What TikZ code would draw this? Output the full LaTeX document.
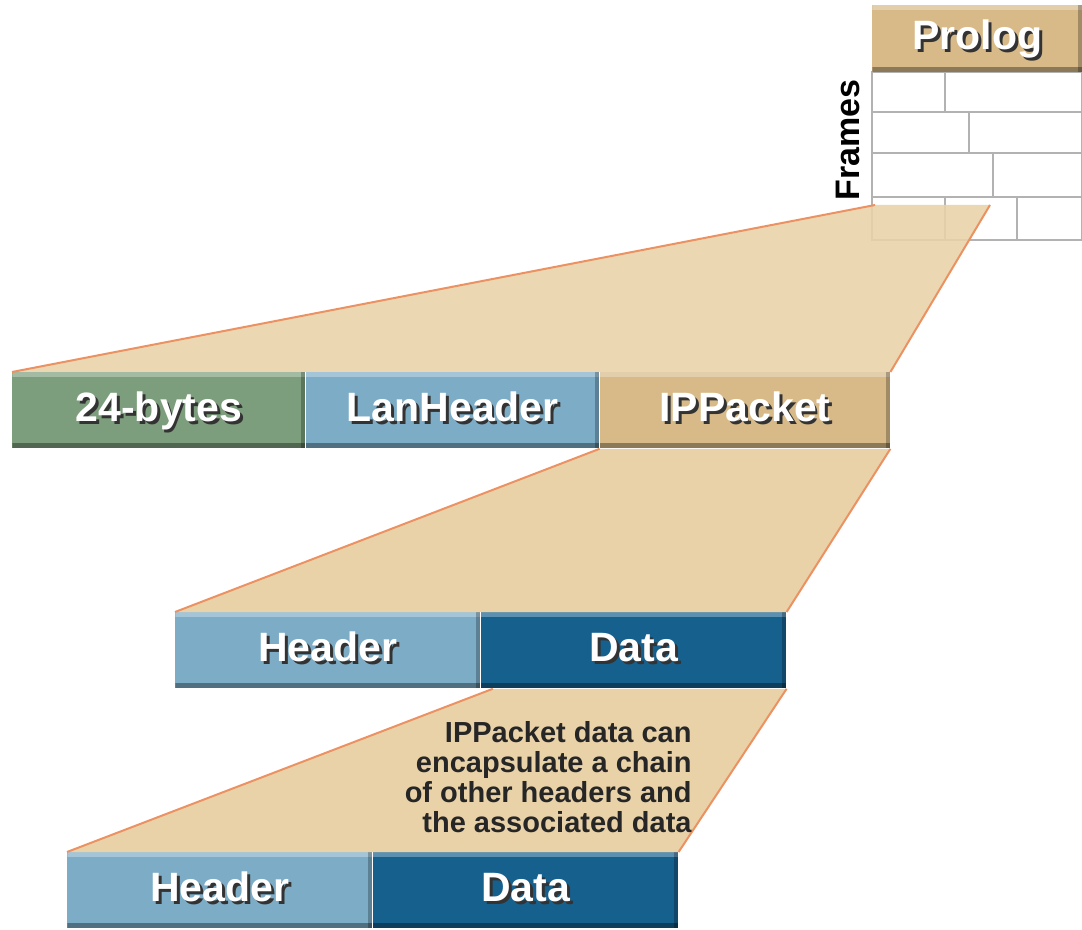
\documentclass[tikz,border=0pt]{standalone}
\usepackage{fontspec}
\setmainfont{Liberation Sans}
\usetikzlibrary{positioning}
\definecolor{segGreen}{RGB}{124,158,124}
\definecolor{segLight}{RGB}{124,172,198}
\definecolor{segDark}{RGB}{22,96,142}
\definecolor{segTan}{RGB}{216,186,136}
\definecolor{trapTan}{RGB}{233,210,168}
\definecolor{edgeOrange}{RGB}{236,146,98}
\newcommand{\raisedtext}[1]{\makebox[0pt][l]{\kern1.4pt\raisebox{-1.4pt}{\color{black!80}#1}}#1}

\begin{document}
\begin{tikzpicture}
  [x=0.5pt, y=-0.5pt, node distance=0pt,
   segment/.style={rectangle, minimum height=38pt, minimum width=152.5pt, inner sep=0pt,
     text height=15pt, text depth=4pt,
     text=white, font=\fontsize{20.5}{24}\selectfont\bfseries,
     path picture={
       \fill[white, opacity=.3] (path picture bounding box.north west) rectangle ([yshift=-2.5pt]path picture bounding box.north east);
       \fill[black, opacity=.35] ([yshift=2.5pt]path picture bounding box.south west) rectangle (path picture bounding box.south east);
       \fill[black, opacity=.25] ([xshift=-2pt]path picture bounding box.north east) rectangle (path picture bounding box.south east);}},
   brick/.style={fill=white, draw=gray!60, line width=1pt},
   trap/.style={fill=trapTan},
   edge/.style={draw=edgeOrange, line width=1pt},
   note/.style={align=right, inner sep=0pt, text=black!85, font=\fontsize{14.5}{15}\selectfont\bfseries}]
  \useasboundingbox (0,0) rectangle (1082,930);

  % frames
  \foreach \ya/\yb/\xc in {72/112/945, 112/153/969, 153/197/993}{
    \draw[brick] (872,\ya) rectangle (\xc,\yb);
    \draw[brick] (\xc,\ya) rectangle (1082,\yb);
  }
  \draw[brick] (872,197) rectangle (945,240);
  \draw[brick] (945,197) rectangle (1017,240);
  \draw[brick] (1017,197) rectangle (1082,240);
  \node[segment, fill=segTan, minimum width=105pt, minimum height=33.5pt, anchor=north west] (prolog) at (872,5) {\raisedtext{Prolog}};
  \node[rotate=90, inner sep=0pt, font=\fontsize{17}{20}\selectfont\bfseries] (frames) at (848,140) {Frames};
  \coordinate (frameL) at (875,205);
  \coordinate (frameR) at (990,205);

  % frame layout
  \node[segment, fill=segGreen, minimum width=146.5pt, anchor=north west] (bytes) at (12,372) {\raisedtext{24-bytes}};
  \node[segment, fill=segLight, minimum width=146.5pt, right=of bytes] (lanhdr) {\raisedtext{LanHeader}};
  \node[segment, fill=segTan, minimum width=145pt, right=of lanhdr] (ippkt) {\raisedtext{IPPacket}};

  % ip packet
  \node[segment, fill=segLight, anchor=north west] (hdrA) at (175,612) {\raisedtext{Header}};
  \node[segment, fill=segDark, right=of hdrA] (dataA) {\raisedtext{Data}};

  % chained headers
  \node[segment, fill=segLight, anchor=north west] (hdrB) at (67,852) {\raisedtext{Header}};
  \node[segment, fill=segDark, right=of hdrB] (dataB) {\raisedtext{Data}};

  \fill[trap, fill opacity=.88] (frameL) -- (frameR) -- (ippkt.north east) -- (bytes.north west) -- cycle;
  \draw[edge] (frameL) -- (bytes.north west);
  \draw[edge] (frameR) -- (ippkt.north east);

  \fill[trap] (ippkt.south west) -- (ippkt.south east) -- (dataA.north east) -- (hdrA.north west) -- cycle;
  \draw[edge] (ippkt.south west) -- (hdrA.north west);
  \draw[edge] (ippkt.south east) -- (dataA.north east);

  \coordinate (dataL) at ([xshift=6pt]dataA.south west);
  \fill[trap] (dataL) -- (dataA.south east) -- (dataB.north east) -- (hdrB.north west) -- cycle;
  \draw[edge] (dataL) -- (hdrB.north west);
  \draw[edge] (dataA.south east) -- (dataB.north east);

  \node[note, anchor=east] (note) at (692,777) {IPPacket data can\\encapsulate a chain\\of other headers and\\the associated data};
\end{tikzpicture}
\end{document}
